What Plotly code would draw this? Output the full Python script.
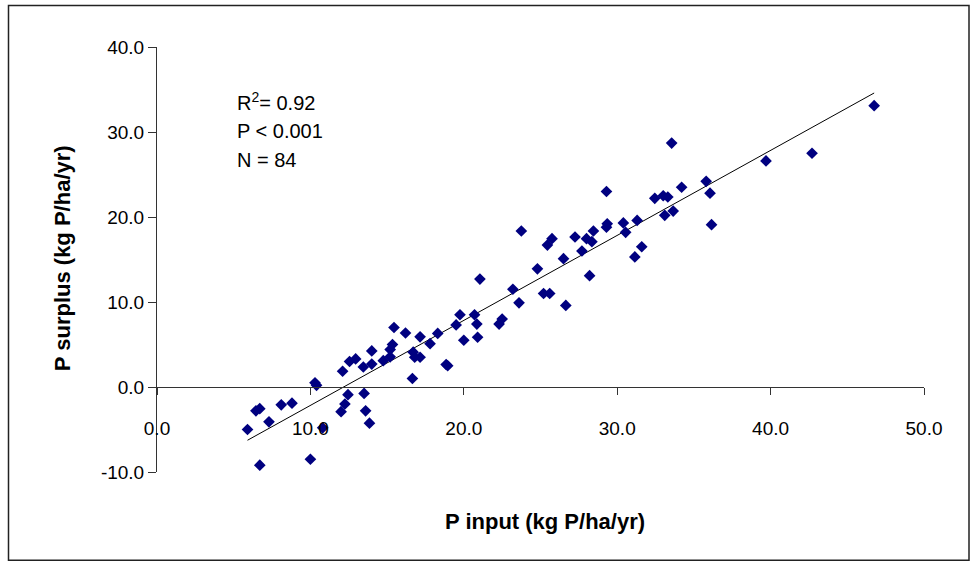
import numpy as np
import plotly.graph_objects as go

# Data
p_input = [5.9, 6.45, 6.7, 6.7, 7.3, 8.1, 8.8, 10.0, 10.3, 10.4,
           10.8, 12.1, 12.0, 12.25, 12.45, 12.55, 12.95, 13.45, 13.5, 13.6,
           13.85, 14.0, 14.0, 14.75, 15.2, 15.35, 15.45, 15.2, 16.2, 16.65,
           16.7, 16.8, 17.15, 17.15, 17.8, 18.3, 18.85, 18.95, 19.5, 19.75,
           20.0, 20.7, 20.85, 20.9, 21.05, 22.3, 22.5, 23.2, 23.6, 23.75,
           24.8, 25.2, 25.45, 25.6, 25.75, 26.5, 26.65, 27.25, 27.7, 28.0,
           28.2, 28.35, 28.45, 29.3, 29.3, 29.35, 30.4, 30.55, 31.15, 31.3,
           31.6, 32.45, 33.0, 33.3, 33.1, 33.55, 33.65, 34.2, 35.8, 36.05,
           36.15, 39.7, 42.7, 46.75]
p_surplus = [-5.0, -2.8, -2.55, -9.2, -4.1, -2.1, -1.9, -8.5, 0.5, 0.2,
             -4.8, 1.85, -2.9, -2.0, -0.9, 3.0, 3.3, 2.35, -0.75, -2.8,
             -4.25, 4.25, 2.7, 3.1, 4.4, 5.0, 7.0, 3.55, 6.35, 1.0,
             4.1, 3.5, 3.5, 5.9, 5.1, 6.3, 2.65, 2.5, 7.3, 8.5,
             5.5, 8.5, 7.4, 5.85, 12.7, 7.4, 8.0, 11.5, 9.9, 18.35,
             13.9, 11.0, 16.7, 11.0, 17.45, 15.1, 9.6, 17.65, 16.0, 17.45,
             13.1, 17.1, 18.35, 23.0, 18.8, 19.2, 19.3, 18.2, 15.3, 19.6,
             16.5, 22.2, 22.5, 22.35, 20.2, 28.7, 20.7, 23.5, 24.2, 22.8,
             19.1, 26.6, 27.5, 33.1]

x_ticks = [0, 10, 20, 30, 40, 50]
x_tick_labels = ["0.0", "10.0", "20.0", "30.0", "40.0", "50.0"]
y_ticks = [-10, 0, 10, 20, 30, 40]
y_tick_labels = ["-10.0", "0.0", "10.0", "20.0", "30.0", "40.0"]
stats_text = ["R<sup>2</sup>= 0.92", "P < 0.001", "N = 84"]

# Linear trend line fitted from the data
slope, intercept = np.polyfit(p_input, p_surplus, 1)
fit_x = [min(p_input), max(p_input)]
fit_y = [slope * v + intercept for v in fit_x]

FONT = "Arial, 'Liberation Sans', sans-serif"

fig = go.Figure()
fig.add_trace(go.Scatter(x=fit_x, y=fit_y, mode="lines",
                         line=dict(color="black", width=1), hoverinfo="skip",
                         showlegend=False))
fig.add_trace(go.Scatter(x=p_input, y=p_surplus, mode="markers",
                         marker=dict(symbol="diamond", size=9, color="#000080",
                                     line=dict(width=0)),
                         showlegend=False))

W, H = 973, 562
L, T = 157, 47
R = W - 924
B = H - 471.7
pw, ph = W - L - R, H - T - B


def px(xp):
    return (xp - L) / pw


def py(yp):
    return (H - B - yp) / ph


fig.update_layout(
    width=W, height=H,
    margin=dict(l=L, r=R, t=T, b=B, pad=0),
    paper_bgcolor="white", plot_bgcolor="white",
    font=dict(family=FONT, size=19, color="black"),
    xaxis=dict(range=[0, 50], tickvals=x_ticks, ticktext=x_tick_labels,
               showgrid=False, zeroline=False, showline=True,
               linecolor="#333333", linewidth=1,
               ticks="outside", ticklen=7, tickcolor="#333333",
               anchor="free", position=0.2, ticklabelstandoff=17,
               tickfont=dict(size=19)),
    yaxis=dict(range=[-10, 40], tickvals=y_ticks, ticktext=y_tick_labels,
               showgrid=False, zeroline=False, showline=True,
               linecolor="#333333", linewidth=1,
               ticks="outside", ticklen=8, tickcolor="#333333",
               tickfont=dict(size=19)),
)

annotations = [
    dict(text="<b>P input (kg P/ha/yr)</b>", x=px(545), y=py(521),
         xref="paper", yref="paper", showarrow=False,
         xanchor="center", yanchor="middle", font=dict(size=22)),
    dict(text="<b>P surplus (kg P/ha/yr)</b>", x=px(62), y=py(258),
         xref="paper", yref="paper", showarrow=False, textangle=-90,
         xanchor="center", yanchor="middle", font=dict(size=22)),
]
for txt, yc in zip(stats_text, [101, 131, 160]):
    annotations.append(dict(text=txt, x=px(235), y=py(yc), xref="paper",
                            yref="paper", showarrow=False, xanchor="left",
                            yanchor="middle", font=dict(size=20)))
fig.update_layout(annotations=annotations)

fig.add_shape(type="rect", xref="paper", yref="paper",
              x0=px(8.5), x1=px(969), y0=py(560), y1=py(5.5),
              line=dict(color="#222222", width=1.5), fillcolor="rgba(0,0,0,0)")

fig.write_html(
    "out.html",
    config={"displayModeBar": False},
    post_script="document.body.style.margin='0';"
                "document.body.style.overflow='hidden';",
)
